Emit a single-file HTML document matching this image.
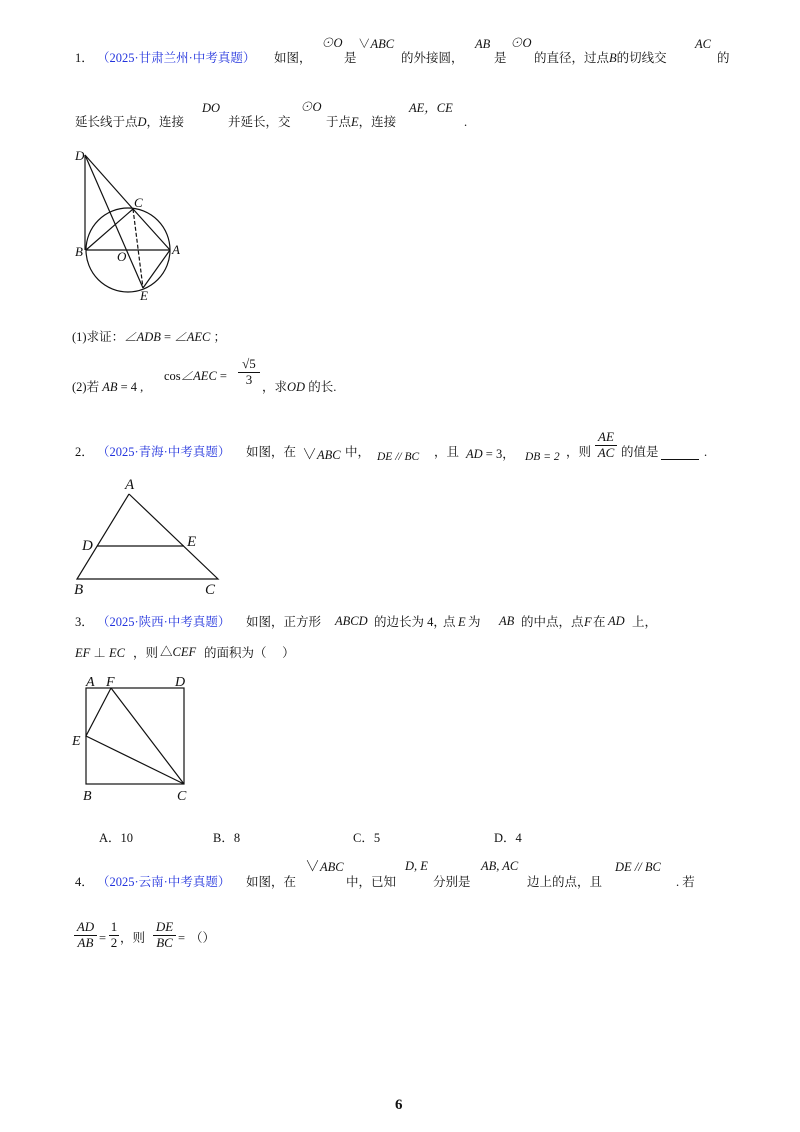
<!DOCTYPE html>
<html><head><meta charset="utf-8">
<style>
body{margin:0;width:800px;height:1132px;background:#fff;position:relative;overflow:hidden;font-family:"Liberation Serif","Noto Serif CJK SC",serif;color:#111;}
.t{position:absolute;font-size:12.5px;line-height:16px;white-space:nowrap;}
.b{color:#2233dd;}
.i{font-style:italic;}
.s{font-size:12.5px;}
.fr{position:absolute;font-size:13px;font-style:italic;text-align:center;line-height:12px;}
.fr div.l{border-top:1px solid #111;margin:2px 0 1px;}
svg{position:absolute;left:0;top:0;}
</style></head><body>

<div class="t" style="left:75px;top:50px">1．</div>
<div class="t b" style="left:97px;top:50px">（2025·甘肃兰州·中考真题）</div>
<div class="t" style="left:274px;top:50px">如图，</div>
<div class="t i" style="left:321px;top:35px">⊙O</div>
<div class="t" style="left:344px;top:50px">是</div>
<div class="t i s" style="left:358px;top:36px"><span style="font-style:normal">∨</span>ABC</div>
<div class="t" style="left:401px;top:50px">的外接圆，</div>
<div class="t i s" style="left:475px;top:36px">AB</div>
<div class="t" style="left:494px;top:50px">是</div>
<div class="t i" style="left:510px;top:35px">⊙O</div>
<div class="t" style="left:534px;top:50px">的直径，过点<i>B</i>的切线交</div>
<div class="t i s" style="left:695px;top:36px">AC</div>
<div class="t" style="left:717px;top:50px">的</div>

<div class="t" style="left:75px;top:114px">延长线于点<i>D</i>，连接</div>
<div class="t i s" style="left:202px;top:100px">DO</div>
<div class="t" style="left:228px;top:114px">并延长，交</div>
<div class="t i" style="left:300px;top:99px">⊙O</div>
<div class="t" style="left:326px;top:114px">于点<i>E</i>，连接</div>
<div class="t i s" style="left:409px;top:100px">AE，CE</div>
<div class="t" style="left:464px;top:114px">.</div>

<svg width="800" height="1132" stroke="#111" fill="none" stroke-width="1.2">
<circle cx="128" cy="250" r="42"/>
<line x1="85" y1="155" x2="85" y2="250"/>
<line x1="85" y1="155" x2="133" y2="209"/>
<line x1="85" y1="155" x2="143" y2="288"/>
<line x1="86" y1="250" x2="170" y2="250"/>
<line x1="86" y1="250" x2="133" y2="209"/>
<line x1="133" y1="209" x2="170" y2="250"/>
<line x1="170" y1="250" x2="143" y2="288"/>
<line x1="133" y1="209" x2="143" y2="288" stroke-dasharray="4,2"/>
<polyline points="129,494 77,579 218,579 129,494"/>
<line x1="97" y1="546" x2="184" y2="546"/>
<rect x="86" y="688" width="98" height="96"/>
<polyline points="111,688 86,736 184,784 111,688"/>
<g fill="#111" stroke="none" font-style="italic" font-size="13" font-family="Liberation Serif,serif">
<text x="75" y="160">D</text><text x="134" y="207">C</text><text x="75" y="256">B</text>
<text x="172" y="254">A</text><text x="117" y="261">O</text><text x="140" y="300">E</text>
<text x="125" y="489" font-size="15">A</text><text x="82" y="550" font-size="15">D</text>
<text x="187" y="546" font-size="15">E</text><text x="74" y="594" font-size="15">B</text>
<text x="205" y="594" font-size="15">C</text>
<text x="86" y="686" font-size="14">A</text><text x="106" y="686" font-size="14">F</text>
<text x="175" y="686" font-size="14">D</text><text x="72" y="745" font-size="14">E</text>
<text x="83" y="800" font-size="14">B</text><text x="177" y="800" font-size="14">C</text>
</g>
</svg>

<div class="t" style="left:72px;top:329px">(1)求证：<i>∠ADB</i> = <i>∠AEC</i> ；</div>
<div class="t" style="left:72px;top:379px">(2)若 <i>AB</i> = 4 ,</div>
<div class="t" style="left:164px;top:368px">cos<i>∠AEC</i> =</div>
<div class="fr" style="left:238px;top:358px;width:22px;font-style:normal">√5<div class="l"></div>3</div>
<div class="t" style="left:262px;top:379px">，求<i>OD</i> 的长.</div>

<div class="t" style="left:75px;top:444px">2．</div>
<div class="t b" style="left:97px;top:444px">（2025·青海·中考真题）</div>
<div class="t" style="left:246px;top:444px">如图，在</div>
<div class="t i s" style="left:302px;top:447px"><span style="font-style:normal;font-size:15px">∨</span>ABC</div>
<div class="t" style="left:345px;top:444px">中，</div>
<div class="t i" style="left:377px;top:449px;font-size:11.5px">DE // BC</div>
<div class="t" style="left:434px;top:444px">，且</div>
<div class="t" style="left:466px;top:446px"><i>AD</i> = 3，</div>
<div class="t i" style="left:525px;top:449px;font-size:11.5px">DB = 2</div>
<div class="t" style="left:566px;top:444px">，则</div>
<div class="fr" style="left:595px;top:431px;width:22px">AE<div class="l"></div>AC</div>
<div class="t" style="left:621px;top:444px">的值是</div>
<div style="position:absolute;left:661px;top:459px;width:38px;border-top:1.5px solid #111"></div>
<div class="t" style="left:704px;top:444px">.</div>

<div class="t" style="left:75px;top:614px">3．</div>
<div class="t b" style="left:97px;top:614px">（2025·陕西·中考真题）</div>
<div class="t" style="left:246px;top:614px">如图，正方形</div>
<div class="t i s" style="left:335px;top:613px">ABCD</div>
<div class="t" style="left:374px;top:614px">的边长为 4，</div>
<div class="t" style="left:443px;top:614px">点</div>
<div class="t i" style="left:458px;top:614px">E</div>
<div class="t" style="left:468px;top:614px">为</div>
<div class="t i s" style="left:499px;top:613px">AB</div>
<div class="t" style="left:521px;top:614px">的中点，点</div>
<div class="t i" style="left:584px;top:614px">F</div>
<div class="t" style="left:593px;top:614px">在</div>
<div class="t i s" style="left:608px;top:613px">AD</div>
<div class="t" style="left:632px;top:614px">上，</div>
<div class="t" style="left:75px;top:645px"><i>EF</i> ⊥ <i>EC</i></div>
<div class="t" style="left:133px;top:645px">，则</div>
<div class="t i s" style="left:160px;top:644px"><span style="font-style:normal">△</span>CEF</div>
<div class="t" style="left:204px;top:645px">的面积为（&nbsp;&nbsp;&nbsp;&nbsp;&nbsp;）</div>

<div class="t" style="left:99px;top:830px">A．10</div>
<div class="t" style="left:213px;top:830px">B．8</div>
<div class="t" style="left:353px;top:830px">C．5</div>
<div class="t" style="left:494px;top:830px">D．4</div>

<div class="t" style="left:75px;top:874px">4．</div>
<div class="t b" style="left:97px;top:874px">（2025·云南·中考真题）</div>
<div class="t" style="left:246px;top:874px">如图，在</div>
<div class="t i s" style="left:305px;top:859px"><span style="font-style:normal;font-size:15px">∨</span>ABC</div>
<div class="t" style="left:346px;top:874px">中，已知</div>
<div class="t i s" style="left:405px;top:858px">D, E</div>
<div class="t" style="left:433px;top:874px">分别是</div>
<div class="t i s" style="left:481px;top:858px">AB, AC</div>
<div class="t" style="left:527px;top:874px">边上的点，且</div>
<div class="t i s" style="left:615px;top:859px">DE // BC</div>
<div class="t" style="left:676px;top:874px">. 若</div>

<div class="fr" style="left:74px;top:921px;width:23px">AD<div class="l"></div>AB</div>
<div class="t" style="left:99px;top:930px">=</div>
<div class="fr" style="left:109px;top:921px;width:10px;font-style:normal">1<div class="l"></div>2</div>
<div class="t" style="left:120px;top:930px">，则</div>
<div class="fr" style="left:153px;top:921px;width:23px">DE<div class="l"></div>BC</div>
<div class="t" style="left:178px;top:930px">=</div>
<div class="t" style="left:190px;top:930px">（）</div>

<div class="t" style="left:395px;top:1097px;font-weight:bold;font-size:15px">6</div>
</body></html>
